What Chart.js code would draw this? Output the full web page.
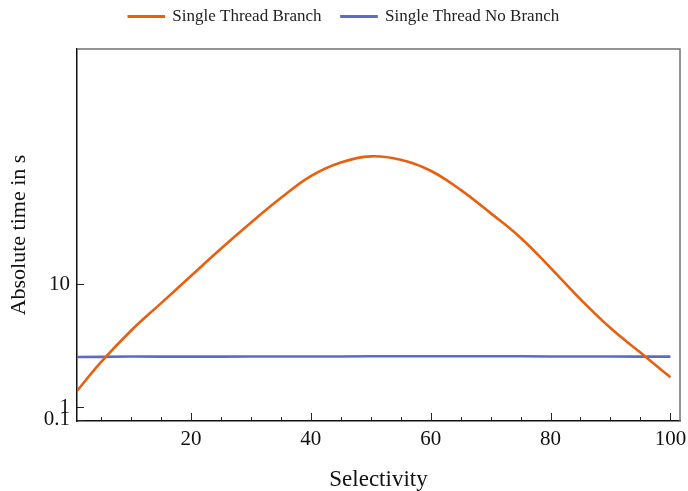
<!DOCTYPE html>
<html lang="en">
<head>
    <meta charset="UTF-8">
    <title>Selectivity</title>
    <script src="https://cdn.jsdelivr.net/npm/chart.js"></script>
    <style>
        body { margin: 0; background: #ffffff; }
        #wrap { width: 688px; height: 491px; }
    </style>
</head>
<body>
    <div id="wrap"><canvas id="chart" width="688" height="491"></canvas></div>
    <script>
        // values
        const selectivity = [1, 5, 10, 15, 20, 25, 30, 35, 40, 45, 50, 55, 60, 65, 70, 75, 80, 85, 90, 95, 100];
        const branchTimes = [2.2, 4.3, 6.6, 8.6, 10.6, 12.6, 14.5, 16.3, 17.9, 18.9, 19.35, 19.1, 18.3, 16.9, 15.2, 13.4, 11.2, 8.9, 6.8, 5.0, 3.2];
        const noBranchTimes = [4.68, 4.69, 4.72, 4.71, 4.71, 4.71, 4.72, 4.72, 4.72, 4.72, 4.73, 4.73, 4.73, 4.73, 4.73, 4.73, 4.72, 4.72, 4.72, 4.71, 4.71];
        const xTickLabels = [20, 40, 60, 80, 100];
        const yTickLabels = [0.1, 1, 10];

        const serif = '"Liberation Serif", "DejaVu Serif", serif';
        const toPoints = (ys) => ys.map((y, i) => ({ x: selectivity[i], y: y }));

        // tweak legend height so the plot frame starts where the original does
        const legendGap = {
            id: 'legendGap',
            beforeInit(chart) {
                const fit = chart.legend.fit;
                chart.legend.fit = function () {
                    fit.bind(chart.legend)();
                    this.height += 14;
                };
            }
        };

        // frame on top/right plus inward tick marks, like the original plot
        const framePlugin = {
            id: 'frame',
            afterDraw(chart) {
                const ctx = chart.ctx;
                const a = chart.chartArea;
                const xs = chart.scales.x, ys = chart.scales.y;
                ctx.save();
                ctx.strokeStyle = '#707070';
                ctx.lineWidth = 1.5;
                ctx.beginPath();
                ctx.moveTo(a.left, a.top);
                ctx.lineTo(a.right, a.top);
                ctx.lineTo(a.right, a.bottom);
                ctx.stroke();

                ctx.strokeStyle = '#222';
                ctx.lineWidth = 1;
                ctx.beginPath();
                for (let v = 5; v <= 100; v += 5) {
                    const px = Math.round(xs.getPixelForValue(v)) + 0.5;
                    const len = v % 20 === 0 ? 8 : 4;
                    ctx.moveTo(px, a.bottom);
                    ctx.lineTo(px, a.bottom - len);
                }
                yTickLabels.forEach(v => {
                    const py = Math.round(ys.getPixelForValue(v)) + 0.5;
                    ctx.moveTo(a.left, py);
                    ctx.lineTo(a.left + 7, py);
                });
                ctx.stroke();
                ctx.restore();
            }
        };

        new Chart(document.getElementById('chart'), {
            type: 'line',
            data: {
                datasets: [{
                    label: 'Single Thread Branch',
                    data: toPoints(branchTimes),
                    borderColor: '#e8600e',
                    backgroundColor: '#e8600e',
                    borderWidth: 2.6,
                    pointRadius: 0,
                    tension: 0.4
                }, {
                    label: 'Single Thread No Branch',
                    data: toPoints(noBranchTimes),
                    borderColor: '#5c6bc6',
                    backgroundColor: '#5c6bc6',
                    borderWidth: 2.6,
                    pointRadius: 0,
                    tension: 0
                }]
            },
            options: {
                responsive: false,
                animation: false,
                layout: { padding: { top: -12, right: 0, left: 0, bottom: -7 } },
                plugins: {
                    tooltip: { enabled: false },
                    legend: {
                        position: 'top',
                        labels: {
                            boxWidth: 35,
                            boxHeight: 0.5,
                            padding: 20,
                            color: '#222',
                            font: { family: serif, size: 17 }
                        }
                    }
                },
                scales: {
                    x: {
                        type: 'linear',
                        min: 1,
                        max: 101.6,
                        afterBuildTicks: (s) => { s.ticks = xTickLabels.map(v => ({ value: v })); },
                        afterFit: (s) => { s.height = 77; s.paddingRight = 8; },
                        grid: { display: false, drawTicks: false },
                        border: { display: true, color: '#111', width: 1.5 },
                        ticks: { color: '#111', padding: 6, font: { family: serif, size: 21 } },
                        title: { display: true, text: 'Selectivity', color: '#111', padding: { top: 16 }, font: { family: serif, size: 23 } }
                    },
                    y: {
                        type: 'linear',
                        min: 0,
                        max: 27.2,
                        afterBuildTicks: (s) => { s.ticks = yTickLabels.map(v => ({ value: v })); },
                        afterFit: (s) => { s.width = 77; },
                        grid: { display: false, drawTicks: false },
                        border: { display: true, color: '#111', width: 1.5 },
                        ticks: { color: '#111', padding: 7, autoSkip: false, font: { family: serif, size: 21 },
                                 callback: (v) => String(v) },
                        title: { display: true, text: 'Absolute time in s', color: '#111', padding: { top: 6, bottom: 0 }, font: { family: serif, size: 22 } }
                    }
                }
            },
            plugins: [legendGap, framePlugin]
        });
    </script>
</body>
</html>
